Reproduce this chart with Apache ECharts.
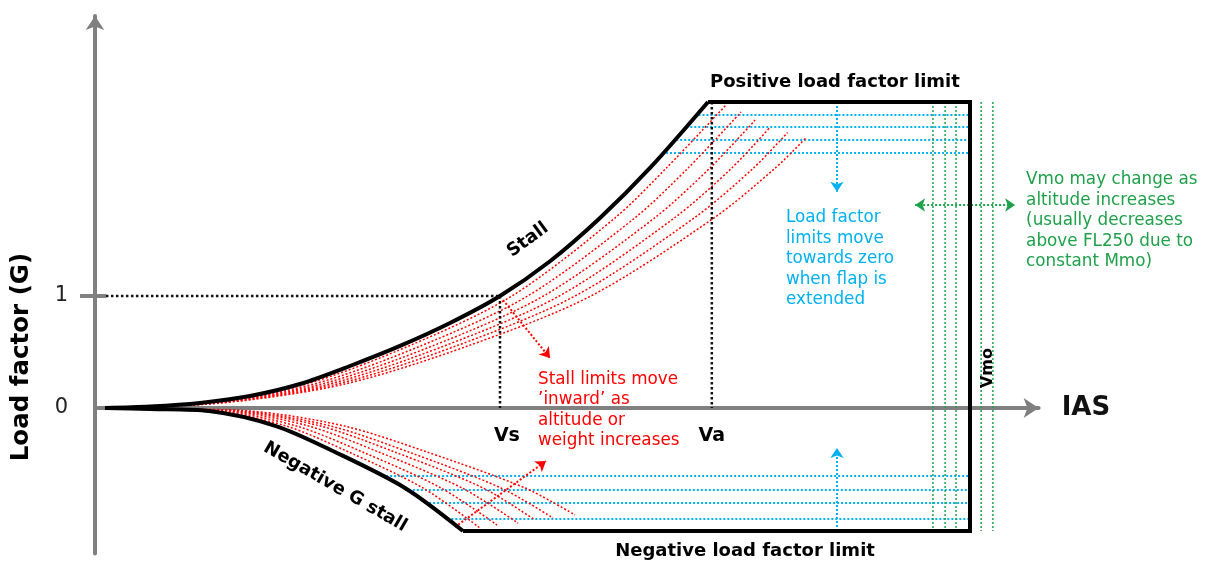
<!DOCTYPE html>
<html><head><meta charset="utf-8">
<script src="https://cdn.jsdelivr.net/npm/echarts@6/dist/echarts.min.js"></script>
<style>html,body{margin:0;padding:0;background:#fff}#c{width:1217px;height:565px}</style>
</head><body><div id="c"></div>
<script>
// IAS in arbitrary units (Vs = 100), load factor in G
const Vs = 100, Va = 152.3, Vmo = 216.05;
const limitPos = 2.732, limitNeg = -1.098;
const stallPos = [[2.47,0],[13.58,0.013],[25.93,0.045],[38.27,0.107],[50.62,0.214],[62.96,0.375],[75.31,0.554],[87.65,0.759],[100,1.0],[112.35,1.31],[124.69,1.696],[137.04,2.143],[151.36,2.732]];
const stallNeg = [[2.47,0],[13.58,-0.009],[28.15,-0.027],[44.69,-0.161],[59.26,-0.393],[76.54,-0.714],[90.86,-1.098]];
const redUpper = [
  [[2.47,0],[26.63,0.045],[52.06,0.214],[77.5,0.554],[102.93,1.0],[128.36,1.696],[141.08,2.143],[155.8,2.705]],
  [[2.47,0],[27.57,0.045],[53.99,0.214],[80.41,0.554],[106.83,1.0],[133.25,1.696],[146.46,2.143],[159.5,2.643]],
  [[2.47,0],[28.51,0.045],[55.92,0.214],[83.32,0.554],[110.73,1.0],[138.13,1.696],[151.84,2.143],[163.0,2.571]],
  [[2.47,0],[29.45,0.045],[57.84,0.214],[86.24,0.554],[114.63,1.0],[143.02,1.696],[157.23,2.143],[166.5,2.5]],
  [[2.47,0],[30.39,0.045],[59.77,0.214],[89.15,0.554],[118.53,1.0],[147.91,1.696],[162.61,2.143],[171,2.46]],
  [[2.47,0],[31.33,0.045],[61.69,0.214],[92.06,0.554],[122.43,1.0],[152.8,1.696],[167.99,2.143],[175.5,2.41]]
];
const redLower = [
  [[2.47,0],[14.25,-0.009],[29.69,-0.027],[47.22,-0.161],[62.67,-0.393],[80.98,-0.714],[95.06,-1.071]],
  [[2.47,0],[14.91,-0.009],[31.23,-0.027],[49.76,-0.161],[66.07,-0.393],[85.43,-0.714],[99.26,-1.045]],
  [[2.47,0],[15.69,-0.009],[33.03,-0.027],[52.71,-0.161],[70.05,-0.393],[90.61,-0.714],[104.44,-1.027]],
  [[2.47,0],[16.47,-0.009],[34.83,-0.027],[55.67,-0.161],[74.03,-0.393],[95.8,-0.714],[108.64,-1.0]],
  [[2.47,0],[17.14,-0.009],[36.37,-0.027],[58.2,-0.161],[77.43,-0.393],[100.24,-0.714],[113.09,-0.982]],
  [[2.47,0],[18.02,-0.009],[38.42,-0.027],[61.58,-0.161],[81.98,-0.393],[106.17,-0.714],[118.52,-0.955]]
];
const blueUpperLevels = [2.616, 2.509, 2.393, 2.277];
const blueUpperStart = [149, 146, 143.5, 141];
const blueLowerLevels = [-0.607, -0.732, -0.848, -0.991];
const blueLowerStart = [70.9, 76.5, 82.5, 87];
const greenVmo = [206.9, 209.9, 212.6, 218.8, 221.7];
const yTickLabels = [0, 1];
const arrowsRed = [[[100.74,0.964],[112.35,0.446]], [[88.89,-1.0625],[111.36,-0.473]]];
const arrowsBlue = [[[183.2,2.732],[183.2,1.93]], [[183.2,-1.098],[183.2,-0.357]]];
const arrowGreen = [[202.5,1.8125],[227.2,1.8125]];

const FONT = 'DejaVu Sans';
const BLUE = '#00b0f0', GREEN = '#1fa04a', RED = '#ff0000', GRAY = '#808080';

// text notes (anchor in data units)
const notes = [
  {t:'Positive load factor limit', p:[182.7,2.911], bold:true, size:18},
  {t:'Negative load factor limit', p:[160.5,-1.277], bold:true, size:18},
  {t:'Stall', p:[106.9,1.5], bold:true, size:18, rot:36},
  {t:'Negative G stall', p:[59.3,-0.705], bold:true, size:18, rot:-30},
  {t:'Vs', p:[101.7,-0.25], bold:true, size:19},
  {t:'Va', p:[152.3,-0.25], bold:true, size:19},
  {t:'Vmo', p:[220.4,0.357], bold:true, size:16, rot:90},
  {t:'Load factor (G)', p:[-18.0,0.455], bold:true, size:24.5, rot:90},
  {t:'Load factor\nlimits move\ntowards zero\nwhen flap is\nextended', p:[170.6,1.33], size:16.8, color:BLUE, align:'left'},
  {t:'Vmo may change as\naltitude increases\n(usually decreases\nabove FL250 due to\nconstant Mmo)', p:[229.9,1.67], size:16.8, color:GREEN, align:'left'},
  {t:'Stall limits move\n\u2019inward\u2019 as\naltitude or\nweight increases', p:[109.4,-0.018], size:16.8, color:RED, align:'left'}
];

const series = [];
function line(data, color, width, type, smooth, z) {
  series.push({type:'line', data, showSymbol:false, symbol:'none', smooth: smooth ? 0.3 : false,
    clip:false, silent:true, z: z || 3,
    lineStyle:{color, width, type: type || 'solid', cap:'butt', join:'miter'}});
}
redUpper.forEach(c => line(c, RED, 1.5, [2,2], true, 3));
redLower.forEach(c => line(c, RED, 1.5, [2,2], true, 3));
blueUpperLevels.forEach((y,i) => line([[blueUpperStart[i], y],[Vmo, y]], BLUE, 2, [2,2], false, 2));
blueLowerLevels.forEach((y,i) => line([[blueLowerStart[i], y],[Vmo, y]], BLUE, 2, [2,2], false, 2));
greenVmo.forEach(x => line([[x, limitPos],[x, limitNeg]], GREEN, 1.5, [2,2], false, 2));
line([[2.7,1],[Vs,1]], '#111', 2.5, [2.5,2.5], false, 4);
line([[Vs,1],[Vs,0]], '#111', 2.5, [2.5,2.5], false, 4);
line([[Va,limitPos],[Va,0]], '#111', 2.5, [2.5,2.5], false, 4);
line([[0,1],[2.7,1]], GRAY, 4, 'solid', false, 1);
line(stallPos, '#000', 4, 'solid', true, 6);
line(stallNeg, '#000', 4, 'solid', true, 6);
line([[stallPos[stallPos.length-1][0], limitPos],[Vmo, limitPos],[Vmo, limitNeg],[stallNeg[stallNeg.length-1][0], limitNeg]], '#000', 4, 'solid', false, 6);

function arrows(list, color, sym) {
  series.push({type:'lines', coordinateSystem:'cartesian2d', silent:true, z:5,
    symbol: sym || ['none','arrow'], symbolSize: 10,
    lineStyle:{color, width:2, type:[2,2], opacity:1, curveness:0},
    data: list.map(c => ({coords: c}))});
}
arrows(arrowsRed, RED);
arrows(arrowsBlue, BLUE);
arrows([arrowGreen], GREEN, ['arrow','arrow']);

series.push({type:'scatter', symbol:'circle', symbolSize:0, clip:false, silent:true, z:10,
  itemStyle:{color:'rgba(0,0,0,0)'},
  data: notes.map(n => ({value:n.p, label:{show:true, formatter:n.t, position:[0,0],
    align:n.align||'center', verticalAlign:'middle', rotate:n.rot||0,
    fontFamily:FONT, fontSize:n.size, fontWeight:n.bold?'bold':'normal',
    color:n.color||'#000', lineHeight:20.5, opacity:1}}))});

const chart = echarts.init(document.getElementById('c'), null, {renderer:'canvas'});
chart.setOption({
  animation:false,
  backgroundColor:'#fff',
  grid:{left:95, right:178.35, top:16, bottom:11.4, containLabel:false, outerBoundsMode:'none'},
  xAxis:{type:'value', min:0, max:233,
    axisLine:{show:true, onZero:true, symbol:['none','arrow'], symbolSize:[15,15], lineStyle:{color:GRAY, width:4}},
    axisTick:{show:false}, axisLabel:{show:false}, splitLine:{show:false},
    name:'IAS', nameLocation:'end', nameGap:23,
    nameTextStyle:{fontFamily:FONT, fontWeight:'bold', fontSize:26, color:'#111', verticalAlign:'middle'}},
  yAxis:{type:'value', min:-1.3, max:3.5, interval:0.1,
    axisLine:{show:true, onZero:false, symbol:['none','arrow'], symbolSize:[14,14], lineStyle:{color:GRAY, width:4}},
    axisTick:{show:true, customValues:[1], length:15, lineStyle:{color:GRAY, width:4}},
    axisLabel:{show:true, margin:27, fontFamily:FONT, fontSize:21, color:'#222',
      formatter: v => { const r = Math.round(v); return (Math.abs(v - r) < 1e-6 && yTickLabels.indexOf(r) >= 0) ? String(r) : ''; }},
    splitLine:{show:false}},
  series
});
</script></body></html>
